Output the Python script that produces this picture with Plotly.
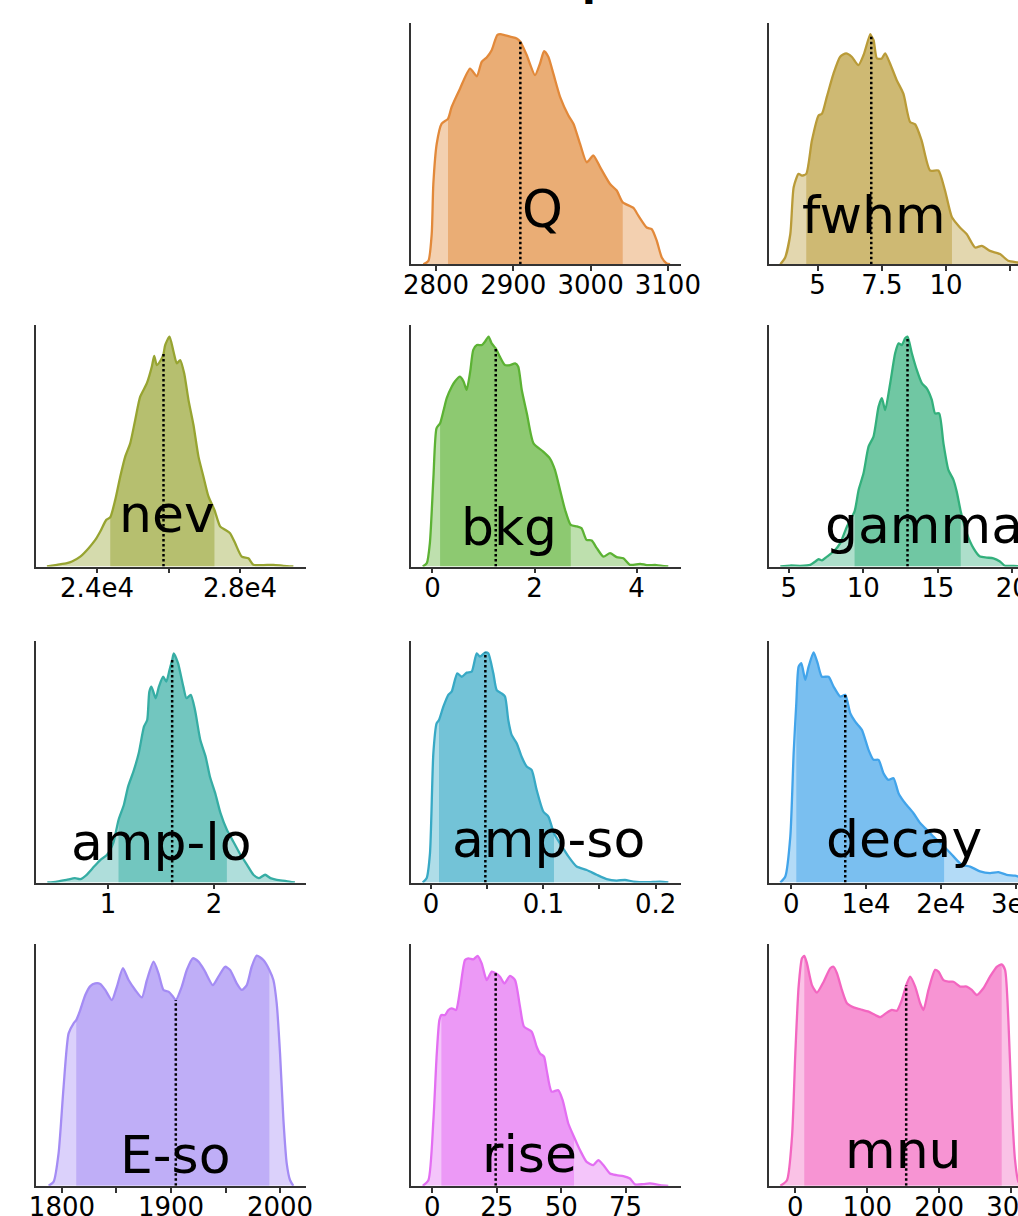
import numpy as np
import plotly.graph_objects as go

# ---------------- data (relative density) ----------------
Q_x = [2783.6, 2790.1, 2794.4, 2796.5, 2800.9, 2807.3, 2815.5, 2820.2, 2831.0, 2844.0, 2852.7, 2859.1, 2865.5, 2872.0, 2879.4, 2885.0, 2895.8, 2904.4, 2909.1, 2917.3, 2928.1, 2934.6, 2939.8, 2945.3, 2951.8, 2960.5, 2971.3, 2977.8, 2986.3, 2995.0, 3003.6, 3012.3, 3025.2, 3033.8, 3041.6, 3055.4, 3061.8, 3072.6, 3079.1, 3085.6, 3092.1, 3098.5, 3102.8]
Q_y = [0.0, 0.014, 0.125, 0.332, 0.499, 0.582, 0.602, 0.651, 0.727, 0.810, 0.778, 0.838, 0.856, 0.886, 0.950, 0.952, 0.942, 0.935, 0.921, 0.866, 0.783, 0.831, 0.882, 0.859, 0.789, 0.693, 0.616, 0.582, 0.499, 0.422, 0.450, 0.402, 0.332, 0.305, 0.256, 0.233, 0.201, 0.152, 0.145, 0.097, 0.028, 0.003, 0.0]
Q_ci = [2815.5, 3041.6, 2909.1]

fwhm_x = [3.55, 3.74, 3.94, 4.07, 4.26, 4.39, 4.56, 4.78, 5.04, 5.17, 5.36, 5.62, 5.88, 6.11, 6.33, 6.59, 6.79, 7.05, 7.09, 7.18, 7.31, 7.50, 7.63, 7.82, 8.08, 8.34, 8.60, 8.80, 9.05, 9.38, 9.70, 9.96, 10.23, 10.54, 10.80, 11.13, 11.39, 11.71, 12.10, 12.42, 12.80, 13.13]
fwhm_y = [0.0, 0.028, 0.125, 0.319, 0.374, 0.367, 0.374, 0.512, 0.616, 0.623, 0.693, 0.789, 0.859, 0.873, 0.859, 0.824, 0.866, 0.953, 0.945, 0.928, 0.852, 0.852, 0.873, 0.831, 0.762, 0.706, 0.589, 0.579, 0.512, 0.388, 0.388, 0.305, 0.194, 0.152, 0.125, 0.069, 0.076, 0.055, 0.042, 0.014, 0.007, 0.0]
fwhm_ci = [4.56, 10.23, 7.09]

nev_x = [22600, 22880, 23160, 23299, 23531, 23765, 23951, 24091, 24259, 24370, 24510, 24649, 24789, 24929, 25068, 25208, 25395, 25534, 25600, 25673, 25785, 25860, 25907, 26028, 26139, 26233, 26326, 26438, 26558, 26698, 26838, 26977, 27117, 27285, 27443, 27583, 27722, 27862, 28049, 28234, 28375, 28653, 28933, 29212, 29492]
nev_y = [0.0, 0.007, 0.014, 0.021, 0.041, 0.076, 0.110, 0.145, 0.193, 0.204, 0.276, 0.372, 0.455, 0.510, 0.607, 0.703, 0.759, 0.828, 0.872, 0.834, 0.855, 0.88, 0.917, 0.952, 0.890, 0.841, 0.855, 0.800, 0.690, 0.586, 0.455, 0.372, 0.290, 0.234, 0.166, 0.152, 0.138, 0.097, 0.041, 0.034, 0.007, 0.006, 0.007, 0.003, 0.0]
nev_ci = [24370, 27285, 25860]

bkg_x = [-0.19, -0.11, -0.05, 0.02, 0.08, 0.15, 0.22, 0.28, 0.38, 0.44, 0.54, 0.61, 0.67, 0.74, 0.80, 0.87, 0.97, 1.03, 1.10, 1.16, 1.24, 1.32, 1.42, 1.52, 1.62, 1.68, 1.75, 1.85, 1.98, 2.17, 2.30, 2.40, 2.50, 2.60, 2.71, 2.83, 2.92, 3.02, 3.12, 3.22, 3.35, 3.48, 3.61, 3.74, 3.87, 4.07, 4.20, 4.39, 4.62]
bkg_y = [0.0, 0.014, 0.097, 0.372, 0.572, 0.593, 0.648, 0.697, 0.745, 0.766, 0.786, 0.766, 0.731, 0.807, 0.897, 0.917, 0.917, 0.931, 0.952, 0.924, 0.903, 0.869, 0.834, 0.834, 0.841, 0.828, 0.731, 0.634, 0.510, 0.476, 0.448, 0.400, 0.317, 0.234, 0.172, 0.166, 0.159, 0.110, 0.108, 0.076, 0.041, 0.055, 0.039, 0.034, 0.007, 0.011, 0.006, 0.006, 0.0]
bkg_ci = [0.15, 2.71, 1.24]

gamma_x = [4.44, 5.11, 5.78, 6.45, 6.79, 7.01, 7.23, 7.57, 8.01, 8.46, 8.91, 9.42, 9.69, 10.02, 10.36, 10.69, 11.03, 11.25, 11.47, 11.81, 12.14, 12.37, 12.59, 12.81, 12.97, 13.26, 13.59, 13.93, 14.26, 14.60, 14.82, 15.09, 15.38, 15.71, 16.05, 16.27, 16.54, 16.94, 17.39, 17.83, 18.28, 18.73, 19.17, 19.51, 20.07, 20.6]
gamma_y = [0.0, 0.004, 0.003, 0.007, 0.021, 0.030, 0.025, 0.041, 0.062, 0.097, 0.166, 0.228, 0.317, 0.386, 0.497, 0.538, 0.662, 0.697, 0.648, 0.759, 0.883, 0.924, 0.917, 0.945, 0.952, 0.883, 0.814, 0.759, 0.738, 0.690, 0.634, 0.634, 0.510, 0.400, 0.359, 0.310, 0.228, 0.138, 0.076, 0.041, 0.037, 0.034, 0.021, 0.003, 0.003, 0.0]
gamma_ci = [9.42, 16.54, 12.97]

amplo_x = [0.43, 0.52, 0.61, 0.69, 0.74, 0.80, 0.87, 0.93, 0.99, 1.05, 1.10, 1.15, 1.19, 1.24, 1.29, 1.34, 1.37, 1.39, 1.41, 1.45, 1.48, 1.52, 1.55, 1.58, 1.605, 1.62, 1.66, 1.71, 1.74, 1.78, 1.82, 1.87, 1.92, 1.96, 2.01, 2.06, 2.12, 2.18, 2.24, 2.31, 2.37, 2.42, 2.48, 2.53, 2.59, 2.68, 2.76]
amplo_y = [0.0, 0.004, 0.011, 0.018, 0.014, 0.032, 0.066, 0.094, 0.114, 0.163, 0.259, 0.321, 0.397, 0.459, 0.535, 0.646, 0.673, 0.790, 0.811, 0.763, 0.811, 0.852, 0.832, 0.880, 0.921, 0.949, 0.908, 0.811, 0.763, 0.777, 0.714, 0.590, 0.521, 0.439, 0.370, 0.287, 0.218, 0.170, 0.121, 0.073, 0.032, 0.018, 0.032, 0.018, 0.011, 0.006, 0.0]
amplo_ci = [1.10, 2.12, 1.605]

ampso_x = [-0.0074, -0.0039, -0.0009, 0.0021, 0.0050, 0.0071, 0.0110, 0.0154, 0.0184, 0.0234, 0.0273, 0.0318, 0.0362, 0.0407, 0.0436, 0.0484, 0.0510, 0.0555, 0.0585, 0.0629, 0.0659, 0.0688, 0.0718, 0.0763, 0.0807, 0.0852, 0.0896, 0.0941, 0.1000, 0.1045, 0.1095, 0.1148, 0.1223, 0.1297, 0.1386, 0.1475, 0.1564, 0.1653, 0.1727, 0.1801, 0.1920, 0.2039, 0.2113]
ampso_y = [0.0, 0.018, 0.121, 0.535, 0.659, 0.673, 0.728, 0.777, 0.790, 0.866, 0.852, 0.869, 0.873, 0.949, 0.935, 0.953, 0.949, 0.866, 0.797, 0.783, 0.770, 0.673, 0.611, 0.577, 0.521, 0.480, 0.466, 0.383, 0.294, 0.273, 0.204, 0.163, 0.108, 0.066, 0.052, 0.032, 0.014, 0.008, 0.011, 0.004, 0.001, 0.004, 0.0]
ampso_ci = [0.0071, 0.1095, 0.0484]

decay_x = [-1470, -802, -134, 312, 668, 980, 1336, 1871, 2316, 2984, 3519, 4098, 4989, 5657, 6548, 7216, 7884, 8552, 9443, 10334, 11002, 11670, 12339, 13007, 13675, 14343, 15234, 16347, 17238, 18129, 19243, 20445, 21693, 22806, 23920, 25256, 26592, 27706, 28820, 29933, 31047]
decay_y = [0.0, 0.025, 0.190, 0.535, 0.742, 0.894, 0.908, 0.839, 0.894, 0.953, 0.908, 0.852, 0.852, 0.811, 0.770, 0.777, 0.701, 0.666, 0.632, 0.549, 0.508, 0.508, 0.452, 0.425, 0.432, 0.370, 0.328, 0.287, 0.246, 0.218, 0.183, 0.149, 0.108, 0.073, 0.066, 0.046, 0.039, 0.043, 0.032, 0.028, 0.018]
decay_ci = [668, 20445, 7216]

Eso_x = [1787.8, 1792.4, 1796.9, 1801.5, 1806.1, 1810.7, 1813.1, 1816.8, 1821.4, 1826.0, 1830.5, 1835.1, 1839.7, 1845.8, 1850.4, 1855.9, 1861.1, 1867.2, 1873.3, 1877.9, 1884.0, 1888.5, 1893.1, 1897.7, 1901.4, 1904.4, 1909.9, 1914.5, 1920.0, 1925.2, 1930.4, 1938.3, 1943.5, 1949.6, 1954.2, 1960.3, 1964.9, 1969.5, 1974.0, 1978.6, 1984.7, 1990.2, 1993.9, 1996.9, 2000.0, 2003.1, 2006.1, 2009.2, 2012.2]
Eso_y = [0.0, 0.017, 0.134, 0.410, 0.631, 0.673, 0.686, 0.728, 0.790, 0.827, 0.838, 0.836, 0.811, 0.769, 0.825, 0.901, 0.852, 0.811, 0.780, 0.852, 0.928, 0.880, 0.811, 0.804, 0.786, 0.769, 0.825, 0.894, 0.942, 0.928, 0.894, 0.831, 0.866, 0.907, 0.894, 0.838, 0.811, 0.831, 0.907, 0.953, 0.935, 0.894, 0.852, 0.756, 0.548, 0.272, 0.093, 0.023, 0.0]
Eso_ci = [1813.1, 1990.2, 1904.4]

rise_x = [-3.75, -1.55, 0.39, 1.68, 2.72, 3.49, 4.91, 6.21, 7.50, 9.18, 10.73, 12.67, 13.96, 15.91, 17.59, 19.14, 21.08, 23.02, 24.57, 26.25, 27.93, 30.13, 32.07, 34.01, 35.56, 38.54, 40.48, 41.77, 43.32, 44.36, 46.29, 48.88, 50.56, 52.76, 54.96, 57.29, 59.87, 62.46, 64.40, 66.34, 68.93, 71.51, 74.10, 76.68, 78.62, 81.86, 84.44, 88.32, 91.56]
rise_y = [0.0, 0.023, 0.272, 0.543, 0.686, 0.707, 0.707, 0.728, 0.735, 0.728, 0.811, 0.935, 0.942, 0.938, 0.952, 0.921, 0.852, 0.887, 0.880, 0.866, 0.838, 0.869, 0.852, 0.742, 0.659, 0.638, 0.576, 0.548, 0.535, 0.479, 0.390, 0.396, 0.355, 0.258, 0.203, 0.148, 0.099, 0.086, 0.106, 0.086, 0.051, 0.044, 0.040, 0.030, 0.006, 0.007, 0.010, 0.003, 0.0]
rise_ci = [3.49, 54.96, 24.57]

mnu_x = [-20.8, -11.6, -4.6, 0.0, 4.6, 9.3, 12.5, 16.2, 23.1, 30.1, 39.4, 48.6, 53.2, 57.9, 64.8, 71.8, 81.0, 90.3, 101.9, 111.1, 118.1, 127.3, 134.3, 141.2, 148.1, 154.2, 159.7, 166.7, 173.6, 178.2, 185.2, 194.4, 199.1, 206.0, 213.0, 219.9, 229.2, 238.4, 245.4, 252.3, 261.6, 270.8, 280.1, 287.0, 291.7, 296.3, 300.9, 305.6, 310.2, 317.1]
mnu_y = [0.0, 0.023, 0.203, 0.548, 0.825, 0.942, 0.952, 0.921, 0.831, 0.800, 0.845, 0.901, 0.907, 0.880, 0.811, 0.756, 0.739, 0.731, 0.721, 0.707, 0.698, 0.717, 0.728, 0.725, 0.769, 0.83, 0.866, 0.825, 0.756, 0.728, 0.811, 0.894, 0.887, 0.852, 0.845, 0.845, 0.825, 0.825, 0.811, 0.790, 0.818, 0.866, 0.907, 0.917, 0.894, 0.686, 0.341, 0.106, 0.017, 0.0]
mnu_ci = [12.5, 287.0, 154.2]

labels = ["Q", "fwhm", "nev", "bkg", "gamma", "amp-lo", "amp-so", "decay", "E-so", "rise", "mnu"]
colors = ["#e2893a", "#b99b38", "#97a431", "#5cb234", "#33b07c", "#36ada4", "#38a9c5", "#42a4ea", "#a48cf4", "#e36ef2", "#f366c0"]

tickvals = [[2800, 2900, 3000, 3100], [5, 7.5, 10, 12.5], [24000, 26000, 28000], [0, 2, 4],
            [5, 10, 15, 20], [1, 2], [0, 0.05, 0.1, 0.15, 0.2], [0, 10000, 20000, 30000],
            [1800, 1850, 1900, 1950, 2000], [0, 25, 50, 75], [0, 100, 200, 300]]
ticktexts = [["2800", "2900", "3000", "3100"], ["5", "7.5", "10", ""], ["2.4e4", "", "2.8e4"], ["0", "2", "4"],
             ["5", "10", "15", "20"], ["1", "2"], ["0", "", "0.1", "", "0.2"], ["0", "1e4", "2e4", "3e4"],
             ["1800", "", "1900", "", "2000"], ["0", "25", "50", "75"], ["0", "100", "200", "300"]]

series_x = [Q_x, fwhm_x, nev_x, bkg_x, gamma_x, amplo_x, ampso_x, decay_x, Eso_x, rise_x, mnu_x]
series_y = [Q_y, fwhm_y, nev_y, bkg_y, gamma_y, amplo_y, ampso_y, decay_y, Eso_y, rise_y, mnu_y]
series_ci = [Q_ci, fwhm_ci, nev_ci, bkg_ci, gamma_ci, amplo_ci, ampso_ci, decay_ci, Eso_ci, rise_ci, mnu_ci]

# ---------------- layout (pixel geometry) ----------------
W, H = 1018, 1216
grid_pos = [(0, 1), (0, 2), (1, 0), (1, 1), (1, 2), (2, 0), (2, 1), (2, 2), (3, 0), (3, 1), (3, 2)]
col_left = [36, 411, 769]
panel_w = 270
row_top = [22.7, 325.0, 641.0, 944.3]
panel_h = 241.5
xranges = [[2767.6, 3117.0], [3.11, 12.80], [22293, 29846], [-0.42, 4.87], [3.68, 20.38],
           [0.323, 2.865], [-0.0178, 0.2226], [-2985, 30334], [1776.2, 2023.8], [-8.3, 96.5], [-36.6, 309.7]]
label_px = [(542, 228), (874, 233), (167, 532), (509, 545), (924, 543), (161, 860), (548, 857),
            (904, 857), (175, 1173), (529, 1172), (903, 1168)]

def rgba(hexc, a):
    h = hexc.lstrip("#")
    r, g, b = int(h[0:2], 16), int(h[2:4], 16), int(h[4:6], 16)
    return f"rgba({r},{g},{b},{a})"

fig = go.Figure()
layout = dict(width=W, height=H, margin=dict(l=0, r=0, t=0, b=0, pad=0), autosize=False,
              paper_bgcolor="white", plot_bgcolor="white", showlegend=False,
              font=dict(family="DejaVu Sans", color="black"))
annotations = []
axis_col = "#333333"

for i in range(11):
    k = i + 1
    xs = np.array(series_x[i], dtype=float)
    ys = np.array(series_y[i], dtype=float)
    lo, hi, med = series_ci[i]
    c = colors[i]
    xa = "x" if k == 1 else f"x{k}"
    ya = "y" if k == 1 else f"y{k}"
    sm = 0.6
    fig.add_trace(go.Scatter(x=xs, y=ys, mode="lines", fill="tozeroy", fillcolor=rgba(c, 0.4),
                             line=dict(width=0, shape="spline", smoothing=sm), xaxis=xa, yaxis=ya, hoverinfo="skip"))
    m = (xs >= lo) & (xs <= hi)
    fig.add_trace(go.Scatter(x=xs[m], y=ys[m], mode="lines", fill="tozeroy", fillcolor=rgba(c, 0.5),
                             line=dict(width=0, shape="spline", smoothing=sm), xaxis=xa, yaxis=ya, hoverinfo="skip"))
    fig.add_trace(go.Scatter(x=xs, y=ys, mode="lines", line=dict(color=c, width=2.3, shape="spline", smoothing=sm),
                             xaxis=xa, yaxis=ya, hoverinfo="skip"))
    hm = float(np.interp(med, xs, ys))
    fig.add_trace(go.Scatter(x=[med, med], y=[0, hm], mode="lines",
                             line=dict(color="black", width=2.5, dash="2.5px,2.5px"),
                             xaxis=xa, yaxis=ya, hoverinfo="skip"))

    r, cidx = grid_pos[i]
    left = col_left[cidx]
    right = min(W, left + panel_w)
    top = row_top[r]
    bottom = top + panel_h
    xkey = "xaxis" if k == 1 else f"xaxis{k}"
    ykey = "yaxis" if k == 1 else f"yaxis{k}"
    layout[xkey] = dict(domain=[left / W, right / W], anchor=ya, range=xranges[i],
                        showgrid=False, zeroline=False, showline=True, linecolor=axis_col, linewidth=1.6,
                        ticks="outside", ticklen=5, tickwidth=1.6, tickcolor=axis_col,
                        tickmode="array", tickvals=tickvals[i], ticktext=ticktexts[i],
                        ticklabeloverflow="allow", automargin=False, ticklabelstandoff=-8,
                        tickfont=dict(size=26, color="black", family="DejaVu Sans"))
    layout[ykey] = dict(domain=[1 - bottom / H, 1 - top / H], anchor=xa, range=[0, 1],
                        showgrid=False, zeroline=False, showline=True, linecolor=axis_col, linewidth=1.6,
                        ticks="", showticklabels=False, automargin=False)
    cx, base = label_px[i]
    annotations.append(dict(text=labels[i], xref="paper", yref="paper", x=cx / W, y=1 - (base + 13.5) / H,
                            xanchor="center", yanchor="bottom", showarrow=False,
                            font=dict(size=52, color="black", family="DejaVu Sans")))

# figure title (mostly above the visible page)
annotations.append(dict(text="<b>posteriors</b>", xref="paper", yref="paper", x=580 / W, y=1 - 6 / H,
                        xanchor="left", yanchor="bottom", showarrow=False,
                        font=dict(size=40, color="black", family="DejaVu Sans")))
layout["annotations"] = annotations
fig.update_layout(**layout)
fig.write_html("out.html",
               post_script="document.documentElement.style.margin='0';document.body.style.margin='0';"
                           "document.body.style.padding='0';document.documentElement.style.overflow='hidden';"
                           "document.body.style.overflow='hidden';")
